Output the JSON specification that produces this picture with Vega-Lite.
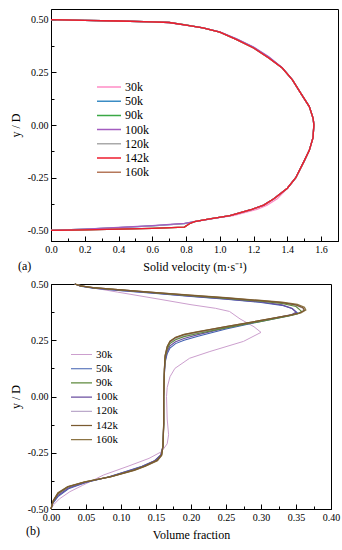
{
  "$schema": "https://vega.github.io/schema/vega-lite/v6.json",
  "background": "white",
  "padding": {"left": 8, "top": 8, "right": 7, "bottom": 0},
  "spacing": 5,
  "config": {
    "font": "Liberation Serif, Times New Roman, serif",
    "view": {"stroke": "black", "strokeWidth": 1},
    "axis": {"domainColor": "black", "tickColor": "black", "labelColor": "black", "titleColor": "black", "labelFont": "Liberation Serif, Times New Roman, serif", "titleFont": "Liberation Serif, Times New Roman, serif", "labelFontSize": 10, "titleFontSize": 12, "titleFontWeight": "normal", "grid": false, "labelFlush": false, "labelOverlap": false, "tickWidth": 1, "domainWidth": 1},
    "legend": {"orient": "none", "symbolType": "stroke", "symbolStrokeWidth": 1.5, "labelFont": "Liberation Serif, Times New Roman, serif", "labelColor": "black", "padding": 0, "labelOffset": 3},
    "title": {"font": "Liberation Serif, Times New Roman, serif", "fontWeight": "normal", "fontSize": 12, "color": "black"}
  },
  "datasets": {
    "a": [
      {"s":"30k","x":0,"y":0.5},{"s":"30k","x":0.2,"y":0.496},{"s":"30k","x":0.4,"y":0.493},{"s":"30k","x":0.6,"y":0.489},{"s":"30k","x":0.7,"y":0.486},{"s":"30k","x":0.8,"y":0.474},{"s":"30k","x":0.9,"y":0.46},{"s":"30k","x":1.0,"y":0.44},{"s":"30k","x":1.1,"y":0.405},{"s":"30k","x":1.2,"y":0.365},{"s":"30k","x":1.29,"y":0.318},{"s":"30k","x":1.37,"y":0.27},{"s":"30k","x":1.43,"y":0.214},{"s":"30k","x":1.48,"y":0.15},{"s":"30k","x":1.53,"y":0.087},{"s":"30k","x":1.553,"y":0.03},{"s":"30k","x":1.557,"y":0},{"s":"30k","x":1.552,"y":-0.06},{"s":"30k","x":1.53,"y":-0.12},{"s":"30k","x":1.5,"y":-0.17},{"s":"30k","x":1.45,"y":-0.25},{"s":"30k","x":1.4,"y":-0.3},{"s":"30k","x":1.34,"y":-0.35},{"s":"30k","x":1.28,"y":-0.38},{"s":"30k","x":1.22,"y":-0.4},{"s":"30k","x":1.08,"y":-0.43},{"s":"30k","x":0.94,"y":-0.445},{"s":"30k","x":0.85,"y":-0.458},{"s":"30k","x":0.82,"y":-0.468},{"s":"30k","x":0.79,"y":-0.484},{"s":"30k","x":0.6,"y":-0.49},{"s":"30k","x":0.4,"y":-0.494},{"s":"30k","x":0.2,"y":-0.497},{"s":"30k","x":0,"y":-0.5},

      {"s":"50k","x":0,"y":0.5},{"s":"50k","x":0.2,"y":0.496},{"s":"50k","x":0.4,"y":0.493},{"s":"50k","x":0.6,"y":0.489},{"s":"50k","x":0.7,"y":0.486},{"s":"50k","x":0.8,"y":0.474},{"s":"50k","x":0.9,"y":0.46},{"s":"50k","x":1.0,"y":0.44},{"s":"50k","x":1.1,"y":0.407},{"s":"50k","x":1.2,"y":0.368},{"s":"50k","x":1.29,"y":0.321},{"s":"50k","x":1.37,"y":0.27},{"s":"50k","x":1.43,"y":0.214},{"s":"50k","x":1.48,"y":0.15},{"s":"50k","x":1.53,"y":0.087},{"s":"50k","x":1.553,"y":0.03},{"s":"50k","x":1.557,"y":0},{"s":"50k","x":1.552,"y":-0.06},{"s":"50k","x":1.53,"y":-0.12},{"s":"50k","x":1.5,"y":-0.17},{"s":"50k","x":1.45,"y":-0.25},{"s":"50k","x":1.4,"y":-0.3},{"s":"50k","x":1.32,"y":-0.35},{"s":"50k","x":1.26,"y":-0.38},{"s":"50k","x":1.19,"y":-0.4},{"s":"50k","x":1.06,"y":-0.43},{"s":"50k","x":0.94,"y":-0.445},{"s":"50k","x":0.85,"y":-0.458},{"s":"50k","x":0.79,"y":-0.468},{"s":"50k","x":0.6,"y":-0.478},{"s":"50k","x":0.4,"y":-0.487},{"s":"50k","x":0.2,"y":-0.494},{"s":"50k","x":0,"y":-0.5},

      {"s":"90k","x":0,"y":0.5},{"s":"90k","x":0.2,"y":0.496},{"s":"90k","x":0.4,"y":0.493},{"s":"90k","x":0.6,"y":0.489},{"s":"90k","x":0.7,"y":0.487},{"s":"90k","x":0.8,"y":0.475},{"s":"90k","x":0.9,"y":0.46},{"s":"90k","x":1.0,"y":0.44},{"s":"90k","x":1.1,"y":0.405},{"s":"90k","x":1.2,"y":0.365},{"s":"90k","x":1.29,"y":0.318},{"s":"90k","x":1.37,"y":0.27},{"s":"90k","x":1.43,"y":0.214},{"s":"90k","x":1.48,"y":0.15},{"s":"90k","x":1.53,"y":0.087},{"s":"90k","x":1.553,"y":0.03},{"s":"90k","x":1.557,"y":0},{"s":"90k","x":1.552,"y":-0.06},{"s":"90k","x":1.53,"y":-0.12},{"s":"90k","x":1.5,"y":-0.17},{"s":"90k","x":1.45,"y":-0.25},{"s":"90k","x":1.4,"y":-0.3},{"s":"90k","x":1.32,"y":-0.35},{"s":"90k","x":1.26,"y":-0.38},{"s":"90k","x":1.19,"y":-0.4},{"s":"90k","x":1.06,"y":-0.43},{"s":"90k","x":0.94,"y":-0.445},{"s":"90k","x":0.85,"y":-0.458},{"s":"90k","x":0.82,"y":-0.468},{"s":"90k","x":0.79,"y":-0.484},{"s":"90k","x":0.6,"y":-0.49},{"s":"90k","x":0.4,"y":-0.494},{"s":"90k","x":0.2,"y":-0.497},{"s":"90k","x":0,"y":-0.5},

      {"s":"120k","x":0,"y":0.5},{"s":"120k","x":0.2,"y":0.496},{"s":"120k","x":0.4,"y":0.493},{"s":"120k","x":0.6,"y":0.489},{"s":"120k","x":0.7,"y":0.486},{"s":"120k","x":0.8,"y":0.474},{"s":"120k","x":0.9,"y":0.46},{"s":"120k","x":1.0,"y":0.44},{"s":"120k","x":1.1,"y":0.405},{"s":"120k","x":1.2,"y":0.365},{"s":"120k","x":1.29,"y":0.318},{"s":"120k","x":1.37,"y":0.27},{"s":"120k","x":1.43,"y":0.214},{"s":"120k","x":1.48,"y":0.15},{"s":"120k","x":1.53,"y":0.087},{"s":"120k","x":1.553,"y":0.03},{"s":"120k","x":1.557,"y":0},{"s":"120k","x":1.552,"y":-0.06},{"s":"120k","x":1.53,"y":-0.12},{"s":"120k","x":1.5,"y":-0.17},{"s":"120k","x":1.45,"y":-0.25},{"s":"120k","x":1.4,"y":-0.3},{"s":"120k","x":1.32,"y":-0.35},{"s":"120k","x":1.26,"y":-0.38},{"s":"120k","x":1.19,"y":-0.4},{"s":"120k","x":1.06,"y":-0.43},{"s":"120k","x":0.94,"y":-0.445},{"s":"120k","x":0.85,"y":-0.458},{"s":"120k","x":0.79,"y":-0.468},{"s":"120k","x":0.6,"y":-0.478},{"s":"120k","x":0.4,"y":-0.487},{"s":"120k","x":0.2,"y":-0.494},{"s":"120k","x":0,"y":-0.5},

      {"s":"100k","x":0,"y":0.5},{"s":"100k","x":0.2,"y":0.496},{"s":"100k","x":0.4,"y":0.493},{"s":"100k","x":0.6,"y":0.489},{"s":"100k","x":0.7,"y":0.486},{"s":"100k","x":0.8,"y":0.474},{"s":"100k","x":0.9,"y":0.46},{"s":"100k","x":1.0,"y":0.441},{"s":"100k","x":1.1,"y":0.409},{"s":"100k","x":1.2,"y":0.37},{"s":"100k","x":1.29,"y":0.323},{"s":"100k","x":1.37,"y":0.272},{"s":"100k","x":1.43,"y":0.214},{"s":"100k","x":1.48,"y":0.15},{"s":"100k","x":1.53,"y":0.087},{"s":"100k","x":1.553,"y":0.03},{"s":"100k","x":1.557,"y":0},{"s":"100k","x":1.552,"y":-0.06},{"s":"100k","x":1.53,"y":-0.12},{"s":"100k","x":1.5,"y":-0.17},{"s":"100k","x":1.45,"y":-0.25},{"s":"100k","x":1.4,"y":-0.3},{"s":"100k","x":1.32,"y":-0.35},{"s":"100k","x":1.26,"y":-0.38},{"s":"100k","x":1.19,"y":-0.4},{"s":"100k","x":1.06,"y":-0.43},{"s":"100k","x":0.94,"y":-0.446},{"s":"100k","x":0.85,"y":-0.458},{"s":"100k","x":0.79,"y":-0.466},{"s":"100k","x":0.6,"y":-0.477},{"s":"100k","x":0.4,"y":-0.486},{"s":"100k","x":0.2,"y":-0.494},{"s":"100k","x":0,"y":-0.5},

      {"s":"160k","x":0,"y":0.5},{"s":"160k","x":0.2,"y":0.496},{"s":"160k","x":0.4,"y":0.493},{"s":"160k","x":0.6,"y":0.489},{"s":"160k","x":0.7,"y":0.486},{"s":"160k","x":0.8,"y":0.474},{"s":"160k","x":0.9,"y":0.46},{"s":"160k","x":1.0,"y":0.44},{"s":"160k","x":1.1,"y":0.405},{"s":"160k","x":1.2,"y":0.365},{"s":"160k","x":1.29,"y":0.318},{"s":"160k","x":1.37,"y":0.27},{"s":"160k","x":1.43,"y":0.214},{"s":"160k","x":1.48,"y":0.15},{"s":"160k","x":1.53,"y":0.087},{"s":"160k","x":1.553,"y":0.03},{"s":"160k","x":1.557,"y":0},{"s":"160k","x":1.552,"y":-0.06},{"s":"160k","x":1.53,"y":-0.12},{"s":"160k","x":1.5,"y":-0.17},{"s":"160k","x":1.45,"y":-0.25},{"s":"160k","x":1.4,"y":-0.3},{"s":"160k","x":1.32,"y":-0.35},{"s":"160k","x":1.26,"y":-0.38},{"s":"160k","x":1.19,"y":-0.4},{"s":"160k","x":1.06,"y":-0.43},{"s":"160k","x":0.94,"y":-0.445},{"s":"160k","x":0.85,"y":-0.458},{"s":"160k","x":0.82,"y":-0.468},{"s":"160k","x":0.79,"y":-0.484},{"s":"160k","x":0.6,"y":-0.49},{"s":"160k","x":0.4,"y":-0.494},{"s":"160k","x":0.2,"y":-0.497},{"s":"160k","x":0,"y":-0.5},

      {"s":"142k","x":0,"y":0.5},{"s":"142k","x":0.2,"y":0.496},{"s":"142k","x":0.4,"y":0.493},{"s":"142k","x":0.6,"y":0.489},{"s":"142k","x":0.7,"y":0.486},{"s":"142k","x":0.8,"y":0.474},{"s":"142k","x":0.9,"y":0.46},{"s":"142k","x":1.0,"y":0.44},{"s":"142k","x":1.1,"y":0.405},{"s":"142k","x":1.2,"y":0.365},{"s":"142k","x":1.29,"y":0.318},{"s":"142k","x":1.37,"y":0.27},{"s":"142k","x":1.43,"y":0.214},{"s":"142k","x":1.48,"y":0.15},{"s":"142k","x":1.53,"y":0.087},{"s":"142k","x":1.553,"y":0.03},{"s":"142k","x":1.557,"y":0},{"s":"142k","x":1.552,"y":-0.06},{"s":"142k","x":1.53,"y":-0.12},{"s":"142k","x":1.5,"y":-0.17},{"s":"142k","x":1.45,"y":-0.25},{"s":"142k","x":1.4,"y":-0.3},{"s":"142k","x":1.32,"y":-0.35},{"s":"142k","x":1.26,"y":-0.38},{"s":"142k","x":1.19,"y":-0.4},{"s":"142k","x":1.06,"y":-0.43},{"s":"142k","x":0.94,"y":-0.445},{"s":"142k","x":0.85,"y":-0.458},{"s":"142k","x":0.82,"y":-0.468},{"s":"142k","x":0.79,"y":-0.484},{"s":"142k","x":0.6,"y":-0.49},{"s":"142k","x":0.4,"y":-0.494},{"s":"142k","x":0.2,"y":-0.497},{"s":"142k","x":0,"y":-0.5}
    ],
    "b": [
      {"s":"30k","x":0.034,"y":0.5},{"s":"30k","x":0.05,"y":0.488},{"s":"30k","x":0.095,"y":0.464},{"s":"30k","x":0.15,"y":0.435},{"s":"30k","x":0.2,"y":0.408},{"s":"30k","x":0.235,"y":0.392},{"s":"30k","x":0.255,"y":0.378},{"s":"30k","x":0.27,"y":0.345},{"s":"30k","x":0.29,"y":0.31},{"s":"30k","x":0.3,"y":0.285},{"s":"30k","x":0.275,"y":0.245},{"s":"30k","x":0.227,"y":0.2},{"s":"30k","x":0.198,"y":0.17},{"s":"30k","x":0.177,"y":0.125},{"s":"30k","x":0.17,"y":0.088},{"s":"30k","x":0.166,"y":0.04},{"s":"30k","x":0.165,"y":0},{"s":"30k","x":0.166,"y":-0.1},{"s":"30k","x":0.168,"y":-0.17},{"s":"30k","x":0.166,"y":-0.21},{"s":"30k","x":0.158,"y":-0.245},{"s":"30k","x":0.14,"y":-0.275},{"s":"30k","x":0.11,"y":-0.31},{"s":"30k","x":0.075,"y":-0.349},{"s":"30k","x":0.045,"y":-0.395},{"s":"30k","x":0.027,"y":-0.423},{"s":"30k","x":0.012,"y":-0.455},{"s":"30k","x":0.004,"y":-0.48},{"s":"30k","x":0,"y":-0.5},

      {"s":"120k","x":0.034,"y":0.5},{"s":"120k","x":0.042,"y":0.492},{"s":"120k","x":0.06,"y":0.484},{"s":"120k","x":0.1,"y":0.474},{"s":"120k","x":0.15,"y":0.461},{"s":"120k","x":0.2,"y":0.449},{"s":"120k","x":0.25,"y":0.437},{"s":"120k","x":0.3,"y":0.424},{"s":"120k","x":0.33,"y":0.415},{"s":"120k","x":0.35,"y":0.405},{"s":"120k","x":0.36,"y":0.393},{"s":"120k","x":0.361,"y":0.381},{"s":"120k","x":0.354,"y":0.369},{"s":"120k","x":0.34,"y":0.359},{"s":"120k","x":0.3,"y":0.336},{"s":"120k","x":0.25,"y":0.308},{"s":"120k","x":0.21,"y":0.283},{"s":"120k","x":0.19,"y":0.27},{"s":"120k","x":0.178,"y":0.257},{"s":"120k","x":0.17,"y":0.24},{"s":"120k","x":0.166,"y":0.215},{"s":"120k","x":0.163,"y":0.175},{"s":"120k","x":0.162,"y":0.12},{"s":"120k","x":0.161,"y":0},{"s":"120k","x":0.161,"y":-0.12},{"s":"120k","x":0.16,"y":-0.22},{"s":"120k","x":0.157,"y":-0.26},{"s":"120k","x":0.15,"y":-0.284},{"s":"120k","x":0.133,"y":-0.309},{"s":"120k","x":0.116,"y":-0.328},{"s":"120k","x":0.084,"y":-0.357},{"s":"120k","x":0.048,"y":-0.381},{"s":"120k","x":0.024,"y":-0.404},{"s":"120k","x":0.01,"y":-0.435},{"s":"120k","x":0.003,"y":-0.47},{"s":"120k","x":0,"y":-0.5},

      {"s":"50k","x":0.034,"y":0.5},{"s":"50k","x":0.042,"y":0.49},{"s":"50k","x":0.06,"y":0.481},{"s":"50k","x":0.1,"y":0.47},{"s":"50k","x":0.15,"y":0.458},{"s":"50k","x":0.2,"y":0.445},{"s":"50k","x":0.25,"y":0.432},{"s":"50k","x":0.3,"y":0.418},{"s":"50k","x":0.33,"y":0.405},{"s":"50k","x":0.345,"y":0.39},{"s":"50k","x":0.352,"y":0.372},{"s":"50k","x":0.345,"y":0.362},{"s":"50k","x":0.33,"y":0.352},{"s":"50k","x":0.295,"y":0.33},{"s":"50k","x":0.25,"y":0.3},{"s":"50k","x":0.21,"y":0.268},{"s":"50k","x":0.19,"y":0.25},{"s":"50k","x":0.178,"y":0.235},{"s":"50k","x":0.17,"y":0.215},{"s":"50k","x":0.166,"y":0.19},{"s":"50k","x":0.163,"y":0.15},{"s":"50k","x":0.162,"y":0.1},{"s":"50k","x":0.161,"y":0},{"s":"50k","x":0.161,"y":-0.12},{"s":"50k","x":0.16,"y":-0.22},{"s":"50k","x":0.157,"y":-0.26},{"s":"50k","x":0.148,"y":-0.285},{"s":"50k","x":0.13,"y":-0.31},{"s":"50k","x":0.11,"y":-0.33},{"s":"50k","x":0.082,"y":-0.358},{"s":"50k","x":0.05,"y":-0.382},{"s":"50k","x":0.025,"y":-0.41},{"s":"50k","x":0.01,"y":-0.445},{"s":"50k","x":0.002,"y":-0.478},{"s":"50k","x":0,"y":-0.5},

      {"s":"100k","x":0.034,"y":0.5},{"s":"100k","x":0.042,"y":0.491},{"s":"100k","x":0.06,"y":0.482},{"s":"100k","x":0.1,"y":0.471},{"s":"100k","x":0.15,"y":0.459},{"s":"100k","x":0.2,"y":0.446},{"s":"100k","x":0.25,"y":0.434},{"s":"100k","x":0.3,"y":0.42},{"s":"100k","x":0.33,"y":0.407},{"s":"100k","x":0.344,"y":0.392},{"s":"100k","x":0.35,"y":0.375},{"s":"100k","x":0.344,"y":0.364},{"s":"100k","x":0.33,"y":0.355},{"s":"100k","x":0.295,"y":0.333},{"s":"100k","x":0.25,"y":0.305},{"s":"100k","x":0.21,"y":0.275},{"s":"100k","x":0.19,"y":0.258},{"s":"100k","x":0.178,"y":0.243},{"s":"100k","x":0.17,"y":0.225},{"s":"100k","x":0.166,"y":0.2},{"s":"100k","x":0.163,"y":0.16},{"s":"100k","x":0.162,"y":0.1},{"s":"100k","x":0.161,"y":0},{"s":"100k","x":0.161,"y":-0.12},{"s":"100k","x":0.16,"y":-0.22},{"s":"100k","x":0.157,"y":-0.26},{"s":"100k","x":0.148,"y":-0.286},{"s":"100k","x":0.13,"y":-0.311},{"s":"100k","x":0.11,"y":-0.331},{"s":"100k","x":0.082,"y":-0.358},{"s":"100k","x":0.05,"y":-0.381},{"s":"100k","x":0.025,"y":-0.407},{"s":"100k","x":0.01,"y":-0.44},{"s":"100k","x":0.002,"y":-0.475},{"s":"100k","x":0,"y":-0.5},

      {"s":"90k","x":0.034,"y":0.5},{"s":"90k","x":0.042,"y":0.492},{"s":"90k","x":0.06,"y":0.483},{"s":"90k","x":0.1,"y":0.473},{"s":"90k","x":0.15,"y":0.46},{"s":"90k","x":0.2,"y":0.448},{"s":"90k","x":0.25,"y":0.436},{"s":"90k","x":0.3,"y":0.423},{"s":"90k","x":0.33,"y":0.413},{"s":"90k","x":0.35,"y":0.4},{"s":"90k","x":0.358,"y":0.378},{"s":"90k","x":0.352,"y":0.367},{"s":"90k","x":0.34,"y":0.358},{"s":"90k","x":0.3,"y":0.334},{"s":"90k","x":0.25,"y":0.305},{"s":"90k","x":0.21,"y":0.28},{"s":"90k","x":0.19,"y":0.266},{"s":"90k","x":0.178,"y":0.252},{"s":"90k","x":0.17,"y":0.235},{"s":"90k","x":0.166,"y":0.21},{"s":"90k","x":0.163,"y":0.17},{"s":"90k","x":0.162,"y":0.12},{"s":"90k","x":0.161,"y":0},{"s":"90k","x":0.161,"y":-0.12},{"s":"90k","x":0.16,"y":-0.22},{"s":"90k","x":0.158,"y":-0.26},{"s":"90k","x":0.151,"y":-0.284},{"s":"90k","x":0.134,"y":-0.309},{"s":"90k","x":0.117,"y":-0.328},{"s":"90k","x":0.085,"y":-0.357},{"s":"90k","x":0.048,"y":-0.38},{"s":"90k","x":0.024,"y":-0.402},{"s":"90k","x":0.01,"y":-0.432},{"s":"90k","x":0.003,"y":-0.467},{"s":"90k","x":0,"y":-0.5},

      {"s":"160k","x":0.034,"y":0.5},{"s":"160k","x":0.042,"y":0.492},{"s":"160k","x":0.06,"y":0.484},{"s":"160k","x":0.1,"y":0.474},{"s":"160k","x":0.15,"y":0.462},{"s":"160k","x":0.2,"y":0.45},{"s":"160k","x":0.25,"y":0.439},{"s":"160k","x":0.3,"y":0.427},{"s":"160k","x":0.33,"y":0.419},{"s":"160k","x":0.352,"y":0.409},{"s":"160k","x":0.362,"y":0.397},{"s":"160k","x":0.364,"y":0.384},{"s":"160k","x":0.357,"y":0.372},{"s":"160k","x":0.342,"y":0.362},{"s":"160k","x":0.3,"y":0.338},{"s":"160k","x":0.25,"y":0.311},{"s":"160k","x":0.21,"y":0.288},{"s":"160k","x":0.19,"y":0.276},{"s":"160k","x":0.178,"y":0.263},{"s":"160k","x":0.17,"y":0.246},{"s":"160k","x":0.166,"y":0.222},{"s":"160k","x":0.163,"y":0.182},{"s":"160k","x":0.162,"y":0.12},{"s":"160k","x":0.161,"y":0},{"s":"160k","x":0.161,"y":-0.12},{"s":"160k","x":0.16,"y":-0.22},{"s":"160k","x":0.158,"y":-0.262},{"s":"160k","x":0.152,"y":-0.285},{"s":"160k","x":0.135,"y":-0.31},{"s":"160k","x":0.119,"y":-0.328},{"s":"160k","x":0.086,"y":-0.356},{"s":"160k","x":0.048,"y":-0.379},{"s":"160k","x":0.024,"y":-0.4},{"s":"160k","x":0.01,"y":-0.428},{"s":"160k","x":0.003,"y":-0.463},{"s":"160k","x":0,"y":-0.5},

      {"s":"142k","x":0.034,"y":0.5},{"s":"142k","x":0.042,"y":0.492},{"s":"142k","x":0.06,"y":0.484},{"s":"142k","x":0.1,"y":0.474},{"s":"142k","x":0.15,"y":0.462},{"s":"142k","x":0.2,"y":0.45},{"s":"142k","x":0.25,"y":0.438},{"s":"142k","x":0.3,"y":0.426},{"s":"142k","x":0.33,"y":0.417},{"s":"142k","x":0.35,"y":0.407},{"s":"142k","x":0.36,"y":0.395},{"s":"142k","x":0.362,"y":0.383},{"s":"142k","x":0.355,"y":0.371},{"s":"142k","x":0.34,"y":0.361},{"s":"142k","x":0.3,"y":0.338},{"s":"142k","x":0.25,"y":0.311},{"s":"142k","x":0.21,"y":0.287},{"s":"142k","x":0.19,"y":0.275},{"s":"142k","x":0.178,"y":0.262},{"s":"142k","x":0.17,"y":0.245},{"s":"142k","x":0.166,"y":0.22},{"s":"142k","x":0.163,"y":0.18},{"s":"142k","x":0.162,"y":0.12},{"s":"142k","x":0.161,"y":0},{"s":"142k","x":0.161,"y":-0.12},{"s":"142k","x":0.16,"y":-0.22},{"s":"142k","x":0.158,"y":-0.26},{"s":"142k","x":0.152,"y":-0.283},{"s":"142k","x":0.135,"y":-0.308},{"s":"142k","x":0.119,"y":-0.327},{"s":"142k","x":0.086,"y":-0.356},{"s":"142k","x":0.048,"y":-0.38},{"s":"142k","x":0.024,"y":-0.401},{"s":"142k","x":0.01,"y":-0.43},{"s":"142k","x":0.003,"y":-0.465},{"s":"142k","x":0,"y":-0.5}
    ]
  },
  "vconcat": [
    {
      "width": 287,
      "height": 232,
      "data": {"name": "a"},
      "title": {"text": "(a)", "orient": "bottom", "anchor": "start", "frame": "group", "dx": -33, "offset": -11},
      "mark": {"type": "line", "strokeWidth": 1.3},
      "encoding": {
        "x": {"field": "x", "type": "quantitative", "scale": {"domain": [0, 1.7], "nice": false, "zero": false},
          "axis": {"values": [0,0.1,0.2,0.3,0.4,0.5,0.6,0.7,0.8,0.9,1.0,1.1,1.2,1.3,1.4,1.5,1.6,1.7],
            "labelExpr": "round(datum.value*10)%2==0 ? format(datum.value,'.1f') : ''",
            "tickSize": {"condition": {"test": "round(datum.value*10)%2==0", "value": -5}, "value": -3},
            "labelPadding": 8, "title": "Solid velocity (m·s⁻¹)", "titlePadding": 6, "minExtent": 14, "maxExtent": 14}},
        "y": {"field": "y", "type": "quantitative", "scale": {"domain": [-0.55, 0.55], "nice": false, "zero": false},
          "axis": {"values": [-0.5,-0.375,-0.25,-0.125,0,0.125,0.25,0.375,0.5],
            "labelExpr": "abs(round(datum.value*8))%2==0 ? replace(format(datum.value,'.2f'),'−','-') : ''",
            "tickSize": {"condition": {"test": "abs(round(datum.value*8))%2==0", "value": -5}, "value": -3},
            "labelPadding": 8, "title": "y / D", "titlePadding": 7, "minExtent": 22, "maxExtent": 22}},
        "color": {"field": "s", "type": "nominal",
          "scale": {"domain": ["30k","50k","90k","100k","120k","142k","160k"], "range": ["#ff8cc6","#3b8cc4","#3aa845","#a35cc0","#aaaaaa","#ee1c2e","#b5785a"]},
          "legend": {"title": null, "legendX": 45, "legendY": 72, "symbolSize": 576, "clipHeight": 12, "rowPadding": 2.2, "labelFontSize": 12}},
        "order": {"value": null}
      }
    },
    {
      "width": 280,
      "height": 225,
      "data": {"name": "b"},
      "title": {"text": "(b)", "orient": "bottom", "anchor": "start", "frame": "group", "dx": -25, "offset": -14},
      "mark": {"type": "line"},
      "encoding": {
        "x": {"field": "x", "type": "quantitative", "scale": {"domain": [0, 0.4], "nice": false, "zero": false},
          "axis": {"values": [0,0.025,0.05,0.075,0.1,0.125,0.15,0.175,0.2,0.225,0.25,0.275,0.3,0.325,0.35,0.375,0.4],
            "labelExpr": "abs(round(datum.value*40))%2==0 ? format(datum.value,'.2f') : ''",
            "tickSize": {"condition": {"test": "abs(round(datum.value*40))%2==0", "value": -5}, "value": -3},
            "labelPadding": 8, "title": "Volume fraction", "titlePadding": 6, "minExtent": 14, "maxExtent": 14}},
        "y": {"field": "y", "type": "quantitative", "scale": {"domain": [-0.5, 0.5], "nice": false, "zero": false},
          "axis": {"values": [-0.5,-0.375,-0.25,-0.125,0,0.125,0.25,0.375,0.5],
            "labelExpr": "abs(round(datum.value*8))%2==0 ? replace(format(datum.value,'.2f'),'−','-') : ''",
            "tickSize": {"condition": {"test": "abs(round(datum.value*8))%2==0", "value": -5}, "value": -3},
            "labelPadding": 8, "title": "y / D", "titlePadding": 7, "minExtent": 22, "maxExtent": 22}},
        "color": {"field": "s", "type": "nominal",
          "scale": {"domain": ["30k","50k","90k","100k","120k","142k","160k"], "range": ["#cc9fce","#3f5fb0","#5e8a3c","#6b4fa0","#bcaacb","#7a5a30","#8c7444"]},
          "legend": {"title": null, "legendX": 19, "legendY": 65, "symbolSize": 441, "clipHeight": 11, "rowPadding": 2.2, "labelFontSize": 11}},
        "strokeWidth": {"field": "s", "type": "nominal",
          "scale": {"domain": ["30k","50k","90k","100k","120k","142k","160k"], "range": [1, 1.3, 1.3, 1.3, 1, 1.8, 1.8]},
          "legend": null},
        "order": {"value": null}
      }
    }
  ],
  "resolve": {"scale": {"color": "independent", "x": "independent", "y": "independent", "strokeWidth": "independent"}, "legend": {"color": "independent"}}
}
